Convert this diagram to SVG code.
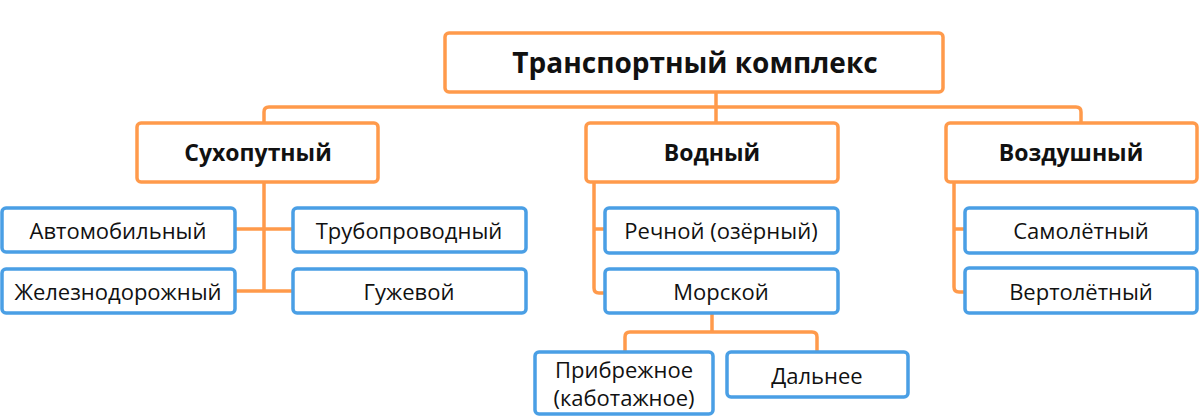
<svg xmlns="http://www.w3.org/2000/svg" width="1200" height="418" viewBox="0 0 1200 418">
<style>
.o{fill:#fff;stroke:#FF9A4B;stroke-width:3.5}
.b{fill:#fff;stroke:#4A9FE5;stroke-width:3.5}
.c{fill:none;stroke:#FF9A4B;stroke-width:3.5;stroke-linejoin:round}
text{font-family:"Open Sans","Liberation Sans",sans-serif;fill:#111;text-anchor:middle;dominant-baseline:central}
.t1{font-size:28px;font-weight:700}
.t2{font-size:23px;font-weight:700}
.t3{font-size:22px}
</style>
<rect width="1200" height="418" fill="#fff"/>
<g id="connectors">
<path class="c" d="M716,92 V123"/>
<path class="c" d="M264,123 V112 Q264,107 269,107 H1076 Q1081,107 1081,112 V123"/>
<path class="c" d="M264,182 V291 M235,229 H293 M235,291 H293"/>
<path class="c" d="M594,182 V288 Q594,293 599,293 H605 M594,229 H605"/>
<path class="c" d="M954,182 V287 Q954,292 959,292 H965 M954,229 H965"/>
<path class="c" d="M712,313 V332 M625,352 V337 Q625,332 630,332 H812 Q817,332 817,337 V352"/>
</g>
<g id="root"><rect class="o" x="445" y="33" width="498" height="59" rx="4"/><text class="t1" x="695" y="62">Транспортный комплекс</text></g>
<g id="land"><rect class="o" x="137" y="123" width="241" height="59" rx="4"/><text class="t2" x="258" y="152">Сухопутный</text></g>
<g id="water"><rect class="o" x="586" y="123" width="252" height="59" rx="4"/><text class="t2" x="712" y="152">Водный</text></g>
<g id="air"><rect class="o" x="946" y="123" width="251" height="59" rx="4"/><text class="t2" x="1071" y="152">Воздушный</text></g>
<g id="auto"><rect class="b" x="2" y="208" width="233" height="44" rx="4"/><text class="t3" x="118" y="230">Автомобильный</text></g>
<g id="pipe"><rect class="b" x="293" y="208" width="233" height="44" rx="4"/><text class="t3" x="409" y="230">Трубопроводный</text></g>
<g id="rail"><rect class="b" x="2" y="269" width="233" height="44" rx="4"/><text class="t3" x="118" y="291">Железнодорожный</text></g>
<g id="horse"><rect class="b" x="293" y="269" width="233" height="44" rx="4"/><text class="t3" x="409" y="291">Гужевой</text></g>
<g id="river"><rect class="b" x="605" y="208" width="233" height="45" rx="4"/><text class="t3" x="721" y="230">Речной (озёрный)</text></g>
<g id="sea"><rect class="b" x="605" y="269" width="233" height="44" rx="4"/><text class="t3" x="721" y="291">Морской</text></g>
<g id="plane"><rect class="b" x="965" y="208" width="232" height="45" rx="4"/><text class="t3" x="1081" y="230">Самолётный</text></g>
<g id="heli"><rect class="b" x="965" y="268" width="232" height="45" rx="4"/><text class="t3" x="1081" y="291">Вертолётный</text></g>
<g id="coastal"><rect class="b" x="535" y="352" width="178" height="62" rx="4"/><text class="t3" x="624" y="369">Прибрежное</text><text class="t3" x="624" y="397">(каботажное)</text></g>
<g id="far"><rect class="b" x="727" y="352" width="181" height="45" rx="4"/><text class="t3" x="817" y="375">Дальнее</text></g>
</svg>
